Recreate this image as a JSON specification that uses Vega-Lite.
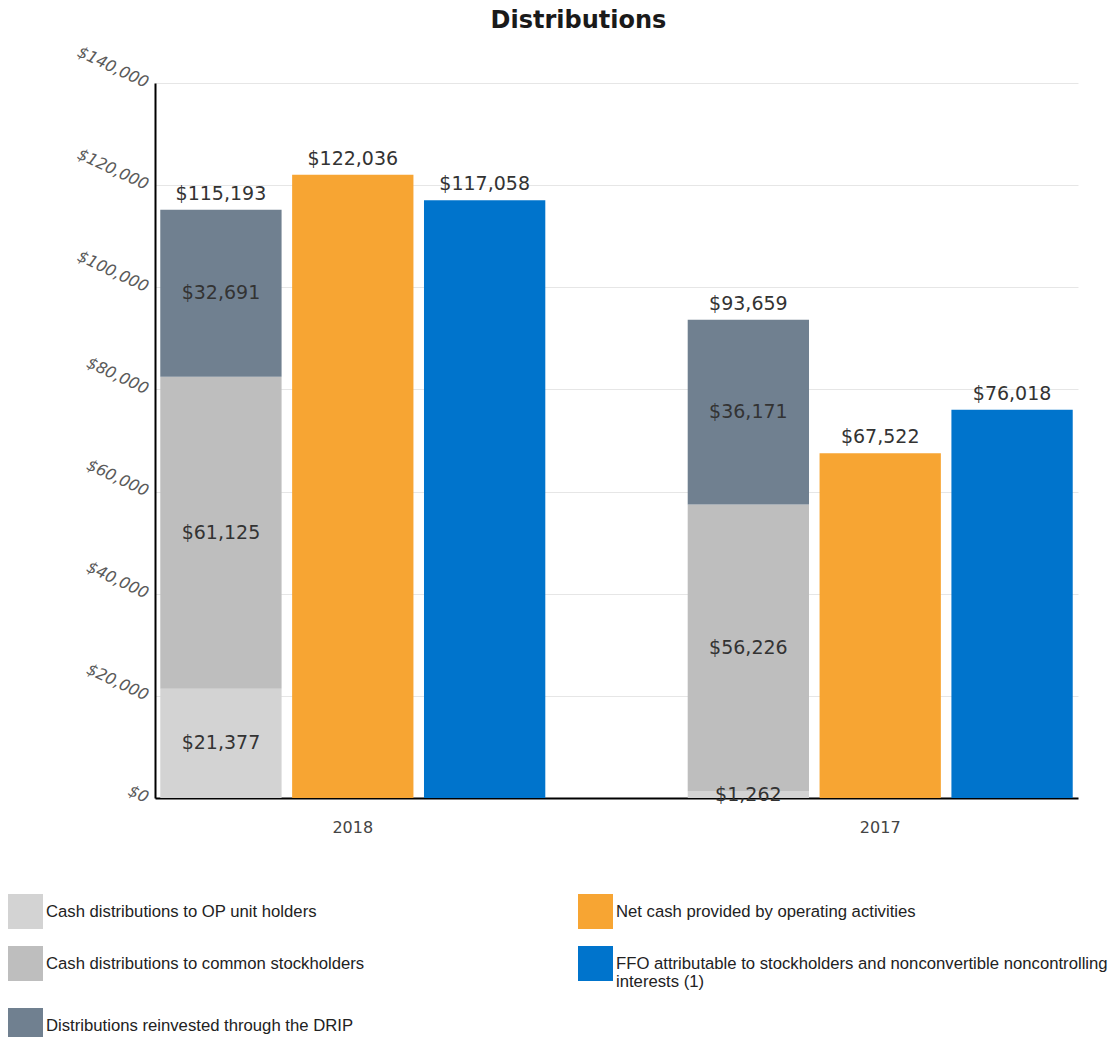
{
  "$schema": "https://vega.github.io/schema/vega-lite/v6.json",
  "width": 923,
  "height": 715,
  "autosize": {"type": "none"},
  "padding": {"left": 155, "top": 83, "right": 38, "bottom": 239},
  "title": {"text": "Distributions", "font": "DejaVu Sans", "fontSize": 24, "fontWeight": "bold", "color": "#1a1a1a", "anchor": "middle", "dx": -38, "offset": 10},
  "config": {
    "view": {"stroke": null},
    "font": "DejaVu Sans"
  },
  "data": {
    "values": [
      {"year": "2018", "bar": "stack", "series": "Cash distributions to OP unit holders", "k": 1, "value": 21377},
      {"year": "2018", "bar": "stack", "series": "Cash distributions to common stockholders", "k": 2, "value": 61125},
      {"year": "2018", "bar": "stack", "series": "Distributions reinvested through the DRIP", "k": 3, "value": 32691},
      {"year": "2018", "bar": "cash", "series": "Net cash provided by operating activities", "k": 1, "value": 122036},
      {"year": "2018", "bar": "ffo", "series": "FFO attributable to stockholders and nonconvertible noncontrolling interests (1)", "k": 1, "value": 117058},
      {"year": "2017", "bar": "stack", "series": "Cash distributions to OP unit holders", "k": 1, "value": 1262},
      {"year": "2017", "bar": "stack", "series": "Cash distributions to common stockholders", "k": 2, "value": 56226},
      {"year": "2017", "bar": "stack", "series": "Distributions reinvested through the DRIP", "k": 3, "value": 36171},
      {"year": "2017", "bar": "cash", "series": "Net cash provided by operating activities", "k": 1, "value": 67522},
      {"year": "2017", "bar": "ffo", "series": "FFO attributable to stockholders and nonconvertible noncontrolling interests (1)", "k": 1, "value": 76018}
    ]
  },
  "encoding": {
    "x": {
      "field": "year", "type": "nominal", "sort": ["2018", "2017"],
      "scale": {"paddingInner": 0.25, "paddingOuter": 0},
      "axis": {"title": null, "labelAngle": 0, "ticks": false, "domainColor": "#000", "domainWidth": 2, "labelFontSize": 16, "labelColor": "#444", "labelPadding": 21, "labelFont": "DejaVu Sans"}
    },
    "xOffset": {"field": "bar", "type": "nominal", "scale": {"domain": ["stack", "cash", "ffo"], "paddingInner": 0.08, "paddingOuter": 0.04}}
  },
  "layer": [
    {
      "mark": {"type": "bar"},
      "encoding": {
        "y": {
          "field": "value", "type": "quantitative", "stack": "zero",
          "scale": {"domain": [0, 140000], "nice": false},
          "axis": {"title": null, "values": [0, 20000, 40000, 60000, 80000, 100000, 120000, 140000], "format": "$,.0f", "labelAngle": 25, "labelFontStyle": "italic", "labelFontSize": 16, "labelColor": "#5a5a5a", "labelPadding": 8, "ticks": false, "domainColor": "#000", "domainWidth": 2, "gridColor": "#e6e6e6", "labelFont": "DejaVu Sans"}
        },
        "color": {
          "field": "series", "type": "nominal",
          "scale": {
            "domain": ["Cash distributions to OP unit holders", "Cash distributions to common stockholders", "Distributions reinvested through the DRIP", "Net cash provided by operating activities", "FFO attributable to stockholders and nonconvertible noncontrolling interests (1)"],
            "range": ["#d3d3d3", "#bebebe", "#708090", "#f7a533", "#0074cc"]
          },
          "legend": {
            "title": null, "orient": "none", "legendX": -147, "legendY": 811, "direction": "vertical", "columns": 2,
            "symbolType": "square", "symbolSize": 1225, "symbolStrokeWidth": 0, "symbolOpacity": 1,
            "labelFont": "Liberation Sans", "labelFontSize": 16.7, "labelColor": "#222", "labelOffset": 3, "labelLimit": 600,
            "rowPadding": 17, "columnPadding": 213,
            "labelExpr": "indexof(datum.label, 'FFO') == 0 ? ['FFO attributable to stockholders and nonconvertible noncontrolling', 'interests (1)'] : datum.label",
            "encode": {"labels": {"update": {"lineHeight": {"value": 18}}}}
          }
        },
        "order": {"field": "k", "type": "quantitative"}
      }
    },
    {
      "mark": {"type": "text", "baseline": "bottom", "dy": -6, "fontSize": 19, "color": "#333", "font": "DejaVu Sans"},
      "encoding": {
        "y": {"aggregate": "sum", "field": "value", "type": "quantitative"},
        "text": {"aggregate": "sum", "field": "value", "type": "quantitative", "format": "$,.0f"}
      }
    },
    {
      "transform": [
        {"filter": "datum.bar == 'stack'"},
        {"stack": "value", "groupby": ["year"], "sort": [{"field": "k", "order": "ascending"}], "as": ["v0", "v1"]},
        {"calculate": "(datum.v0 + datum.v1) / 2", "as": "mid"}
      ],
      "mark": {"type": "text", "baseline": "middle", "fontSize": 19, "color": "#333", "font": "DejaVu Sans"},
      "encoding": {
        "y": {"field": "mid", "type": "quantitative"},
        "text": {"field": "value", "type": "quantitative", "format": "$,.0f"}
      }
    }
  ]
}
